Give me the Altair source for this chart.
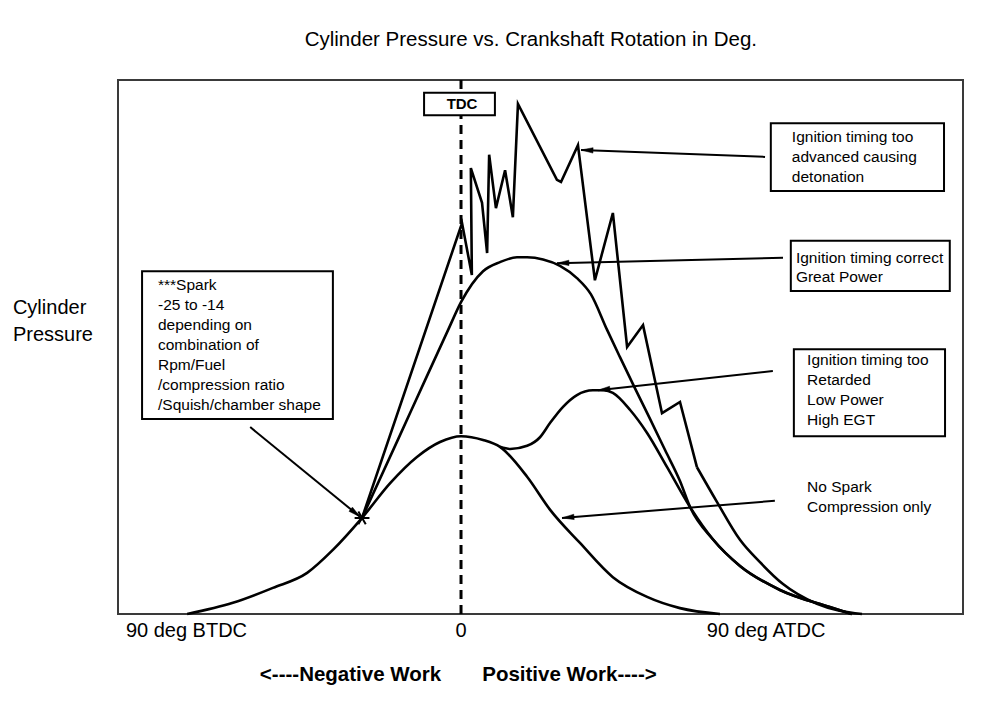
import math
import altair as alt
import pandas as pd

# ---------------- data: crank angle (deg, negative = BTDC) and relative cylinder pressure ----------------
nospark_deg = [-80.8, -67.3, -55.5, -45.4, -37.8, -29.2, -20.9, -13.0, -6.2, 0.0, 6.5, 11.5,
               19.5, 26.3, 35.1, 44.8, 54.9, 64.6, 76.4]
nospark_p = [0, 2.1, 4.9, 7.7, 12.0, 18.0, 24.5, 29.4, 32.2, 33.3, 32.6, 31.3,
             25.7, 19.5, 13.3, 6.9, 3.2, 1.1, 0]

correct_deg = [-29.2, -18.0, -10.6, -3.8, 0.0, 6.5, 11.5, 16.5, 19.5, 24.2, 29.2, 34.2, 38.3,
               43.1, 46.9, 51.3, 55.8, 60.2, 64.6, 67.6, 74.3, 82.3, 94.1, 108.8, 115.3]
correct_p = [18.0, 33.5, 43.8, 53.2, 58.4, 64.2, 65.9, 66.8, 66.8, 66.4, 65.2, 62.9, 59.9,
             53.2, 48.1, 42.3, 36.5, 30.7, 24.9, 20.0, 14.0, 9.0, 4.5, 1.3, 0]

retard_deg = [11.5, 14.5, 19.5, 23.3, 26.3, 30.1, 34.2, 38.9, 42.2, 44.8, 49.9, 54.9,
              60.8, 67.6, 74.3, 82.3, 94.1, 108.8, 115.3]
retard_p = [31.3, 30.9, 31.5, 33.1, 35.8, 38.8, 41.0, 41.9, 41.9, 41.4, 38.2, 33.9,
            27.5, 20.0, 14.0, 9.0, 4.5, 1.3, 0]

# detonation: jagged part (straight segments) then smooth decay
deton_deg = [-29.2, 0.3, 3.2, 2.9, 6.2, 7.7, 8.3, 10.3, 13.0, 15.3, 16.8, 28.3, 29.5, 34.5,
             39.5, 44.8, 49.0, 53.7, 59.3, 64.6, 69.6]
deton_p = [18.0, 73.2, 63.5, 83.5, 77.0, 67.6, 86.0, 76.0, 83.1, 74.3, 95.5, 81.3, 80.9, 87.8,
           62.5, 75.1, 50.0, 54.1, 37.6, 39.7, 27.5]
deton_tail_deg = [69.6, 75.5, 82.3, 88.2, 95.0, 105.0, 118.3]
deton_tail_p = [27.5, 21.0, 13.9, 9.7, 5.6, 1.9, 0]

spark_deg = [-29.2]
spark_p = [18.0]
tdc_deg = [0.0]

# annotation boxes
box_x1 = [-94.1, 91.4, 97.3, 98.2]
box_x2 = [-37.8, 142.5, 144.2, 142.8]
box_y1 = [36.5, 79.2, 60.5, 33.3]
box_y2 = [64.2, 91.9, 69.9, 49.6]

note_text = ["***Spark", "-25 to -14", "depending on", "combination of", "Rpm/Fuel",
             "/compression ratio", "/Squish/chamber shape",
             "Ignition timing too", "advanced causing", "detonation",
             "Ignition timing correct", "Great Power",
             "Ignition timing too", "Retarded", "Low Power", "High EGT",
             "No Spark", "Compression only"]
note_x = [-89.4] * 7 + [97.6] * 3 + [98.8] * 2 + [102.1] * 4 + [102.1] * 2
note_y = [61.6, 57.9, 54.1, 50.4, 46.6, 42.9, 39.1,
          89.3, 85.6, 81.8,
          66.7, 63.1,
          47.6, 43.8, 40.1, 36.3,
          23.8, 20.0]

# arrows (start -> tip)
arrow_x1 = [89.7, 95.0, 92.0, 92.6, -62.2]
arrow_y1 = [85.6, 66.7, 45.5, 21.2, 35.0]
arrow_x2 = [35.4, 28.3, 40.4, 29.8, -29.8]
arrow_y2 = [86.9, 65.7, 41.9, 18.0, 18.2]

# TDC label box
tdc_box = {"x1": -10.9, "x2": 10.0, "y1": 93.4, "y2": 97.6}

# axis-like labels
xlab_text = ["90 deg BTDC", "0", "90 deg ATDC"]
xlab_deg = [-81.0, 0.0, 90.0]
ylab_text = ["Cylinder", "Pressure"]
ylab_p = [57.3, 52.2]
work_text = ["<----Negative Work", "Positive Work---->"]
work_deg = [-32.6, 32.0]
title_text = "Cylinder Pressure vs. Crankshaft Rotation in Deg."

# ---------------- chart ----------------
XMIN, XMAX = -101.2, 148.1
YMIN, YMAX = 0, 100
W, H = 845, 534
FONT = "Liberation Sans"

xs = alt.Scale(domain=[XMIN, XMAX], nice=False, zero=False)
ys = alt.Scale(domain=[YMIN, YMAX], nice=False, zero=False)


def X(f):
    return alt.X(f, type="quantitative", scale=xs, axis=None)


def Y(f):
    return alt.Y(f, type="quantitative", scale=ys, axis=None)


def curve_df(name, d, p):
    return pd.DataFrame({"deg": d, "p": p, "series": name, "ord": list(range(len(d)))})


mono_df = pd.concat([curve_df("No spark", nospark_deg, nospark_p),
                     curve_df("Retarded", retard_deg, retard_p),
                     curve_df("Detonation tail", deton_tail_deg, deton_tail_p)])
correct_df = curve_df("Correct", correct_deg, correct_p)
deton_df = curve_df("Detonation", deton_deg, deton_p)

mono = alt.Chart(mono_df).mark_line(color="black", strokeWidth=2.6, interpolate="monotone").encode(
    x=X("deg"), y=Y("p"), detail="series:N", order="ord:Q")
correct = alt.Chart(correct_df).mark_line(color="black", strokeWidth=2.6, interpolate="monotone").encode(
    x=X("deg"), y=Y("p"), detail="series:N", order="ord:Q")
deton = alt.Chart(deton_df).mark_line(color="black", strokeWidth=2.6, strokeJoin="miter").encode(
    x=X("deg"), y=Y("p"), detail="series:N", order="ord:Q")

tdc_rule = alt.Chart(pd.DataFrame({"deg": tdc_deg, "y0": [YMIN], "y1": [YMAX]})).mark_rule(
    color="black", strokeWidth=3, strokeDash=[9, 6]).encode(x=X("deg"), y=Y("y0"), y2="y1")

tdc_rect = alt.Chart(pd.DataFrame([tdc_box])).mark_rect(fill="white", stroke="black", strokeWidth=2).encode(
    x=X("x1"), x2="x2", y=Y("y1"), y2="y2")
tdc_text = alt.Chart(pd.DataFrame({"deg": [0.3], "p": [95.5], "t": ["TDC"]})).mark_text(
    font=FONT, fontSize=15, fontWeight="bold", baseline="middle", align="center").encode(
    x=X("deg"), y=Y("p"), text="t")

boxes = alt.Chart(pd.DataFrame({"x1": box_x1, "x2": box_x2, "y1": box_y1, "y2": box_y2})).mark_rect(
    fill="white", stroke="black", strokeWidth=2).encode(x=X("x1"), x2="x2", y=Y("y1"), y2="y2")

notes = alt.Chart(pd.DataFrame({"deg": note_x, "p": note_y, "t": note_text})).mark_text(
    font=FONT, fontSize=15.5, align="left", baseline="middle", color="black").encode(
    x=X("deg"), y=Y("p"), text="t")

px_deg = W / (XMAX - XMIN)
px_p = H / (YMAX - YMIN)
angles = []
for x0, y0, x1, y1 in zip(arrow_x1, arrow_y1, arrow_x2, arrow_y2):
    dxs = (x1 - x0) * px_deg
    dys = -(y1 - y0) * px_p
    angles.append(math.degrees(math.atan2(dxs, -dys)) % 360)

arrow_df = pd.DataFrame({"x1": arrow_x1, "y1": arrow_y1, "x2": arrow_x2, "y2": arrow_y2, "ang": angles})
arrow_lines = alt.Chart(arrow_df).mark_rule(color="black", strokeWidth=2).encode(
    x=X("x1"), y=Y("y1"), x2="x2", y2="y2")
arrow_heads = alt.Chart(arrow_df).mark_point(
    shape="M0,0L0.45,2L-0.45,2Z", filled=True, fill="black", stroke="black", strokeWidth=0.5,
    size=144, opacity=1).encode(x=X("x2"), y=Y("y2"), angle=alt.Angle("ang:Q", scale=None))

spark = alt.Chart(pd.DataFrame({"deg": spark_deg, "p": spark_p})).mark_point(
    shape="M-1,0L1,0M-0.5,-0.866L0.5,0.866M-0.5,0.866L0.5,-0.866", filled=False,
    stroke="black", strokeWidth=2, size=220, opacity=1).encode(x=X("deg"), y=Y("p"))

xlabels = alt.Chart(pd.DataFrame({"deg": xlab_deg, "p": [-3.2] * 3, "t": xlab_text})).mark_text(
    font=FONT, fontSize=20, align="center", baseline="middle", color="black").encode(
    x=X("deg"), y=Y("p"), text="t")
ylabels = alt.Chart(pd.DataFrame({"deg": [-132.2] * 2, "p": ylab_p, "t": ylab_text})).mark_text(
    font=FONT, fontSize=20, align="left", baseline="middle", color="black").encode(
    x=X("deg"), y=Y("p"), text="t")
work = alt.Chart(pd.DataFrame({"deg": work_deg, "p": [-11.4] * 2, "t": work_text})).mark_text(
    font=FONT, fontSize=20.5, fontWeight="bold", align="center", baseline="middle", color="black").encode(
    x=X("deg"), y=Y("p"), text="t")
title = alt.Chart(pd.DataFrame({"deg": [20.6], "p": [107.5], "t": [title_text]})).mark_text(
    font=FONT, fontSize=20.5, align="center", baseline="middle", color="black").encode(
    x=X("deg"), y=Y("p"), text="t")

chart = alt.layer(
    mono, correct, deton, tdc_rule, tdc_rect, tdc_text, boxes, notes,
    arrow_lines, arrow_heads, spark, xlabels, ylabels, work, title
).properties(
    width=W, height=H,
    autosize=alt.AutoSizeParams(type="none"),
    padding={"left": 110, "top": 72, "right": 29, "bottom": 80},
    background="white",
).configure_view(stroke="#3a3a3a", strokeWidth=2)

chart.save("out.html", embed_options={"renderer": "svg", "actions": False})
